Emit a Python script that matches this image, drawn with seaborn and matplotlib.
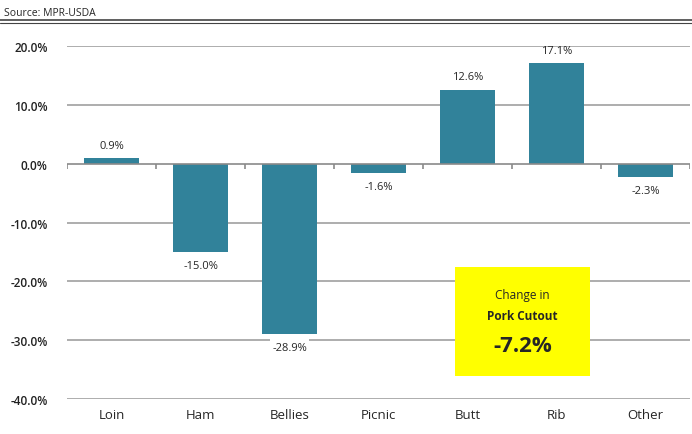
import matplotlib.pyplot as plt
import seaborn as sns
import pandas as pd
from matplotlib.patches import Rectangle

cuts = ['Loin', 'Ham', 'Bellies', 'Picnic', 'Butt', 'Rib', 'Other']
change = [0.9, -15.0, -28.9, -1.6, 12.6, 17.1, -2.3]
cutout_change = -7.2

df = pd.DataFrame({'cut': cuts, 'change': change})

sns.set_style('white')
plt.rcParams['font.family'] = ['Open Sans', 'DejaVu Sans']

fig = plt.figure(figsize=(6.92, 4.35), dpi=100)
ax = fig.add_axes([0.097, 0.080, 0.900, 0.812])

sns.barplot(x='cut', y='change', data=df, color='#31829A', width=0.62,
            saturation=1, linewidth=0, ax=ax, zorder=3)

ax.set_ylim(-40, 20)
ax.set_xlim(-0.5, len(cuts) - 0.5)
ax.set_yticks(range(-40, 21, 10))
ax.set_yticklabels([f'{v:.1f}%' for v in range(-40, 21, 10)], fontsize=8.5,
                   fontweight='semibold', color='#222222')
for v in range(-40, 21, 10):
    if v != 0:
        ax.axhline(v, color='#a0a0a0', lw=1.2, zorder=1)
ax.axhline(0, color='#8a8a8a', lw=1.2, zorder=4)
# little category ticks hanging under the zero line
ax.vlines([i - 0.5 for i in range(len(cuts) + 1)], -0.9, 0, color='#8a8a8a', lw=1.2, zorder=4)
ax.set_xlabel('')
ax.set_ylabel('')
ax.tick_params(axis='x', labelsize=9.5, length=0, pad=6)
ax.tick_params(axis='y', length=0, pad=14)
for s in ax.spines.values():
    s.set_visible(False)

for i, v in enumerate(change):
    if v >= 0:
        ax.text(i, v + 1.2, f'{v:.1f}%', ha='center', va='bottom', fontsize=8, zorder=5)
    else:
        ax.text(i, v - 1.3, f'{v:.1f}%', ha='center', va='top', fontsize=8, zorder=5,
                bbox=dict(facecolor='white', edgecolor='none', pad=1.5))

# yellow callout box
box = Rectangle((455 / 692, 1 - 377 / 435), 135 / 692, 109 / 435,
                transform=fig.transFigure, facecolor='#FFFF00', edgecolor='none', zorder=10)
fig.patches.append(box)
cx = (455 + 67.5) / 692
fig.text(cx, 1 - 296 / 435, 'Change in', ha='center', va='center', fontsize=8.5, zorder=11)
fig.text(cx, 1 - 317 / 435, 'Pork Cutout', ha='center', va='center', fontsize=8.5,
         fontweight='bold', zorder=11)
fig.text(cx, 1 - 347 / 435, f'{cutout_change:.1f}%', ha='center', va='center', fontsize=16,
         fontweight='bold', zorder=11)

# source line
fig.text(0.006, 1 - 13 / 435, 'Source: MPR-USDA', ha='left', va='center', fontsize=7.5)
fig.add_artist(plt.Line2D([0, 1], [1 - 21 / 435, 1 - 21 / 435], color='#444444', lw=1.2))
fig.add_artist(plt.Line2D([0, 1], [1 - 23.5 / 435, 1 - 23.5 / 435], color='#444444', lw=0.8))

fig.savefig('out.png', dpi=100)
